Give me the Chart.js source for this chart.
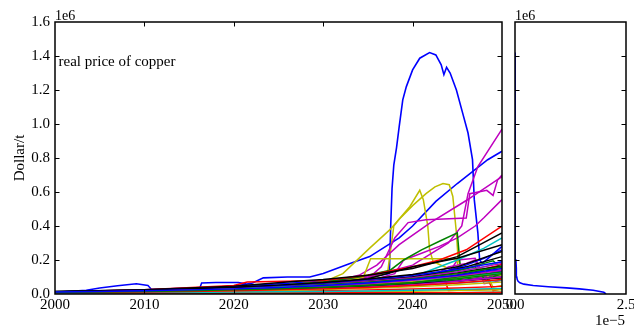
<!DOCTYPE html>
<html><head><meta charset="utf-8">
<script src="https://cdn.jsdelivr.net/npm/chart.js@4.4.1/dist/chart.umd.min.js"></script>
<style>
html,body{margin:0;padding:0;background:#fff;}
#wrap{position:relative;width:634px;height:330px;background:#fff;}
canvas{position:absolute;left:0;top:0;}
</style></head><body>
<div id="wrap"><canvas id="main" width="634" height="330"></canvas><canvas id="side" width="634" height="330"></canvas></div>
<script>
// ---------- DATA (values in 1e6 Dollar/t) ----------
const xTickYears = [2000, 2010, 2020, 2030, 2040, 2050];
const yTickValues = [0.0, 0.2, 0.4, 0.6, 0.8, 1.0, 1.2, 1.4, 1.6];
const sideXTicks = [0.0, 2.5];

// background ensemble on a coarse year grid
const gridYears = [2000, 2005, 2010, 2015, 2020, 2025, 2030, 2035, 2040, 2045, 2050];
const bg01 = [0.012,0.015,0.019,0.024,0.030,0.038,0.050,0.065,0.085,0.110,0.150];
const bg02 = [0.010,0.012,0.015,0.019,0.024,0.031,0.040,0.052,0.068,0.090,0.120];
const bg03 = [0.008,0.010,0.012,0.015,0.019,0.024,0.030,0.038,0.050,0.065,0.085];
const bg04 = [0.006,0.007,0.008,0.009,0.011,0.013,0.015,0.018,0.022,0.027,0.033];
const bg05 = [0.010,0.013,0.017,0.022,0.028,0.036,0.046,0.060,0.080,0.105,0.140];
const bg06 = [0.007,0.009,0.011,0.014,0.017,0.021,0.026,0.033,0.042,0.054,0.070];
const bg07 = [0.015,0.019,0.024,0.031,0.040,0.052,0.068,0.088,0.115,0.160,0.250];
const bg08 = [0.014,0.018,0.023,0.030,0.039,0.050,0.065,0.085,0.110,0.145,0.190];
const bg09 = [0.009,0.011,0.014,0.018,0.023,0.030,0.039,0.050,0.065,0.100,0.130];
const bg10 = [0.004,0.004,0.005,0.005,0.006,0.006,0.007,0.007,0.008,0.008,0.009];
const bg11 = [0.011,0.014,0.018,0.023,0.030,0.038,0.049,0.063,0.080,0.100,0.125];
const bg12 = [0.006,0.008,0.010,0.013,0.017,0.022,0.030,0.040,0.055,0.075,0.100];
const bg13 = [0.012,0.015,0.019,0.024,0.030,0.038,0.048,0.060,0.075,0.095,0.120];
const bg14 = [0.010,0.012,0.015,0.019,0.024,0.030,0.038,0.048,0.060,0.075,0.095];
const bg15 = [0.008,0.010,0.013,0.017,0.022,0.028,0.036,0.046,0.059,0.076,0.100];
const bg16 = [0.013,0.016,0.020,0.026,0.033,0.042,0.054,0.070,0.090,0.120,0.160];
const bg17 = [0.007,0.008,0.010,0.012,0.014,0.017,0.020,0.024,0.029,0.035,0.045];
const bg18 = [0.009,0.011,0.013,0.016,0.020,0.025,0.031,0.039,0.050,0.064,0.080];
const bg19 = [0.012,0.015,0.020,0.026,0.034,0.044,0.057,0.074,0.096,0.130,0.180];
const bg20 = [0.005,0.006,0.007,0.008,0.009,0.010,0.012,0.014,0.016,0.020,0.025];
const bg21 = [0.011,0.014,0.018,0.023,0.030,0.040,0.053,0.070,0.093,0.124,0.165];
const bg22 = [0.003,0.003,0.004,0.004,0.005,0.005,0.006,0.006,0.007,0.008,0.010];
const bg23 = [0.002,0.002,0.003,0.003,0.003,0.004,0.004,0.004,0.005,0.005,0.006];
const bgSeries = [bg01,bg02,bg03,bg04,bg05,bg06,bg07,bg08,bg09,bg10,bg11,bg12,bg13,bg14,bg15,bg16,bg17,bg18,bg19,bg20,bg21,bg22,bg23];
const bgColors = ['b','g','r','c','m','y','k','b','g','r','c','m','y','k','b','g','r','c','m','y','k','g','c'];

// jagged late trajectories on a finer late grid
const lateYears = [2000, 2010, 2020, 2030, 2035, 2040, 2042, 2044, 2046, 2047, 2048, 2049, 2050];
const jag01 = [0.010,0.018,0.030,0.050,0.070,0.095,0.110,0.130,0.150,0.160,0.090,0.100,0.120];
const jag02 = [0.012,0.020,0.033,0.055,0.075,0.100,0.115,0.135,0.160,0.175,0.190,0.205,0.220];
const jag03 = [0.011,0.019,0.032,0.052,0.072,0.100,0.120,0.140,0.170,0.190,0.210,0.235,0.260];
const jag04 = [0.009,0.015,0.025,0.045,0.060,0.080,0.095,0.110,0.130,0.140,0.150,0.040,0.050];
const jag05 = [0.010,0.016,0.027,0.045,0.062,0.085,0.100,0.120,0.080,0.090,0.100,0.110,0.120];
const jag06 = [0.009,0.015,0.024,0.040,0.055,0.075,0.085,0.100,0.115,0.125,0.135,0.020,0.030];
const jag07 = [0.010,0.017,0.028,0.048,0.066,0.090,0.105,0.120,0.140,0.150,0.160,0.175,0.190];
const jag08 = [0.011,0.018,0.030,0.050,0.068,0.092,0.108,0.128,0.150,0.165,0.180,0.195,0.150];
const jag09 = [0.010,0.016,0.026,0.043,0.058,0.078,0.090,0.105,0.120,0.130,0.140,0.150,0.160];
const jag10 = [0.008,0.013,0.022,0.036,0.048,0.064,0.074,0.086,0.100,0.108,0.116,0.125,0.135];
const jag11 = [0.009,0.015,0.025,0.042,0.058,0.080,0.095,0.160,0.180,0.200,0.060,0.070,0.080];
const jag12 = [0.010,0.017,0.028,0.047,0.064,0.088,0.100,0.115,0.130,0.135,0.140,0.145,0.150];
const jag13 = [0.009,0.014,0.022,0.036,0.048,0.062,0.070,0.078,0.088,0.094,0.100,0.108,0.116];
const jag14 = [0.011,0.018,0.029,0.048,0.064,0.086,0.098,0.112,0.128,0.138,0.148,0.160,0.175];
const jagSeries = [jag01,jag02,jag03,jag04,jag05,jag06,jag07,jag08,jag09,jag10,jag11,jag12,jag13,jag14];
const jagColors = ['g','k','b','y','m','r','c','g','k','b','m','y','g','r'];

// individual trajectories
const blackAYears = [2000, 2010, 2020, 2027, 2030, 2035, 2040, 2045, 2050];
const blackAVals  = [0.015, 0.025, 0.045, 0.075, 0.085, 0.110, 0.150, 0.220, 0.360];
const blackBYears = [2000, 2010, 2020, 2027, 2030, 2035, 2040, 2045, 2050];
const blackBVals  = [0.012, 0.020, 0.035, 0.050, 0.060, 0.090, 0.160, 0.210, 0.290];
const redAYears = [2000, 2010, 2020, 2021.5, 2030, 2035, 2040, 2043, 2046, 2050];
const redAVals  = [0.012, 0.025, 0.050, 0.070, 0.080, 0.110, 0.160, 0.200, 0.260, 0.400];
const redBYears = [2000, 2020, 2030, 2040, 2042, 2043.5, 2044, 2050];
const redBVals  = [0.008, 0.020, 0.035, 0.060, 0.100, 0.100, 0.020, 0.030];
const cyanAYears = [2000, 2020, 2030, 2040, 2045, 2048, 2050];
const cyanAVals  = [0.010, 0.025, 0.050, 0.100, 0.200, 0.270, 0.330];
const greenAYears = [2000, 2010, 2020, 2030, 2034, 2037.5, 2039, 2041, 2043, 2045, 2045.4, 2046, 2050];
const greenAVals  = [0.010, 0.018, 0.030, 0.070, 0.100, 0.140, 0.200, 0.260, 0.310, 0.360, 0.120, 0.100, 0.130];
const magAYears = [2000, 2010, 2020, 2030, 2035, 2040, 2044, 2045.5, 2046.2, 2047.3, 2050];
const magAVals  = [0.010, 0.018, 0.030, 0.060, 0.100, 0.170, 0.300, 0.400, 0.590, 0.750, 0.970];
const magBYears = [2000, 2010, 2020, 2030, 2034, 2036, 2038.5, 2042, 2046, 2050];
const magBVals  = [0.010, 0.017, 0.028, 0.060, 0.110, 0.170, 0.290, 0.420, 0.550, 0.690];
const magCYears = [2000, 2010, 2020, 2030, 2035.2, 2036.5, 2038, 2039.5, 2041.5, 2046, 2046.4, 2048.3, 2049, 2049.5, 2050];
const magCVals  = [0.010, 0.018, 0.030, 0.060, 0.100, 0.160, 0.330, 0.420, 0.437, 0.447, 0.590, 0.610, 0.580, 0.670, 0.700];
const magDYears = [2000, 2020, 2030, 2036, 2038, 2039, 2041, 2043, 2045, 2047, 2048, 2050];
const magDVals  = [0.010, 0.025, 0.050, 0.090, 0.120, 0.200, 0.240, 0.280, 0.330, 0.400, 0.450, 0.555];
const magEYears = [2000, 2020, 2030, 2035, 2040, 2044, 2045, 2047, 2048, 2050];
const magEVals  = [0.008, 0.020, 0.040, 0.060, 0.090, 0.120, 0.200, 0.210, 0.100, 0.120];
const yelAYears = [2000, 2010, 2020, 2030, 2032.2, 2035.2, 2037.5, 2039.7, 2040.8, 2041.2, 2041.7, 2041.9, 2042.3, 2044, 2046, 2050];
const yelAVals  = [0.010, 0.018, 0.030, 0.070, 0.120, 0.270, 0.380, 0.515, 0.610, 0.555, 0.400, 0.260, 0.190, 0.150, 0.120, 0.100];
const yelBYears = [2000, 2010, 2020, 2030, 2035, 2037.2, 2037.9, 2038.5, 2040, 2041.5, 2042.5, 2043.4, 2044.1, 2044.5, 2044.9, 2045.1, 2045.5, 2047, 2050];
const yelBVals  = [0.010, 0.017, 0.028, 0.055, 0.090, 0.124, 0.400, 0.440, 0.520, 0.590, 0.630, 0.650, 0.643, 0.574, 0.360, 0.200, 0.150, 0.120, 0.110];
const yelCYears = [2000, 2010, 2020, 2030, 2034.5, 2035.3, 2044.9, 2045.3, 2050];
const yelCVals  = [0.010, 0.016, 0.025, 0.050, 0.100, 0.207, 0.207, 0.120, 0.090];
const blueEarlyYears = [2000, 2003.5, 2005, 2007, 2009.1, 2010.4, 2010.8, 2015, 2020, 2030, 2040, 2050];
const blueEarlyVals  = [0.010, 0.022, 0.035, 0.048, 0.060, 0.050, 0.027, 0.033, 0.040, 0.060, 0.090, 0.120];
const blueMidYears = [2000, 2010, 2016.2, 2016.4, 2018, 2020.5, 2021.3, 2021.6, 2025, 2030, 2040, 2050];
const blueMidVals  = [0.008, 0.020, 0.035, 0.065, 0.068, 0.068, 0.060, 0.040, 0.050, 0.070, 0.100, 0.140];
const blueDiagYears = [2000, 2010, 2016, 2020, 2022.1, 2023.3, 2026, 2028.5, 2030, 2033, 2035.2, 2038.5, 2040, 2042.6, 2045, 2048.4, 2050];
const blueDiagVals  = [0.012, 0.020, 0.030, 0.045, 0.065, 0.095, 0.100, 0.100, 0.120, 0.180, 0.220, 0.330, 0.400, 0.545, 0.650, 0.790, 0.840];
const blueSpikeYears = [2000, 2010, 2020, 2030, 2035, 2037.4, 2037.55, 2037.7, 2037.9, 2038.2, 2038.5, 2038.9, 2039.3, 2040.0, 2040.8, 2041.9, 2042.6, 2043.2, 2043.5, 2043.8, 2044.2, 2044.9, 2045.6, 2046.2, 2046.7, 2046.9, 2047.3, 2047.5, 2047.8, 2050];
const blueSpikeVals  = [0.012, 0.025, 0.045, 0.075, 0.100, 0.120, 0.400, 0.620, 0.760, 0.860, 0.985, 1.142, 1.220, 1.318, 1.387, 1.420, 1.406, 1.348, 1.290, 1.334, 1.300, 1.200, 1.064, 0.947, 0.790, 0.555, 0.360, 0.200, 0.180, 0.280];

// right panel: density (x in 1e-5) against price level (y in 1e6)
const densityLevels = [0.000, 0.010, 0.022, 0.030, 0.036, 0.043, 0.050, 0.058, 0.066, 0.075, 0.085, 0.100, 0.150, 0.200, 0.250, 0.300, 0.400, 0.600, 1.000, 1.420];
const densityValues = [2.05, 2.00, 1.76, 1.45, 1.16, 0.75, 0.41, 0.20, 0.11, 0.07, 0.05, 0.04, 0.03, 0.02, 0.01, 0.005, 0.002, 0.001, 0.0, 0.0];

// ---------- STYLE ----------
const COLORS = {b:'#0000ff', g:'#008000', r:'#ff0000', c:'#00bfbf', m:'#bf00bf', y:'#bfbf00', k:'#000000'};
const FONT = 'Liberation Serif, Times New Roman, serif';

function line(xs, ys, c, w) {
  return {
    data: xs.map((x, i) => ({x: x, y: ys[i]})),
    showLine: true, borderColor: COLORS[c], backgroundColor: COLORS[c],
    borderWidth: w || 1.5, pointRadius: 0, pointHoverRadius: 0, fill: false, tension: 0
  };
}

const datasets = [];
bgSeries.forEach((s, i) => datasets.push(line(gridYears, s, bgColors[i], 1.4)));
jagSeries.forEach((s, i) => datasets.push(line(lateYears, s, jagColors[i], 1.4)));
datasets.push(line(blackAYears, blackAVals, 'k'));
datasets.push(line(blackBYears, blackBVals, 'k'));
datasets.push(line(redAYears, redAVals, 'r'));
datasets.push(line(redBYears, redBVals, 'r'));
datasets.push(line(cyanAYears, cyanAVals, 'c'));
datasets.push(line(greenAYears, greenAVals, 'g'));
datasets.push(line(yelCYears, yelCVals, 'y'));
datasets.push(line(magEYears, magEVals, 'm'));
datasets.push(line(magDYears, magDVals, 'm'));
datasets.push(line(magCYears, magCVals, 'm'));
datasets.push(line(magBYears, magBVals, 'm'));
datasets.push(line(magAYears, magAVals, 'm'));
datasets.push(line(yelAYears, yelAVals, 'y'));
datasets.push(line(yelBYears, yelBVals, 'y'));
datasets.push(line(blueEarlyYears, blueEarlyVals, 'b'));
datasets.push(line(blueMidYears, blueMidVals, 'b'));
datasets.push(line(blueDiagYears, blueDiagVals, 'b', 1.6));
datasets.push(line(blueSpikeYears, blueSpikeVals, 'b', 1.6));

const TICKLEN = 4.5;

function frameAndTicks(chart, xTicks, yTicks) {
  const ctx = chart.ctx, a = chart.chartArea;
  const xs = chart.scales.x, ys = chart.scales.y;
  ctx.save();
  ctx.strokeStyle = '#000';
  ctx.lineWidth = 1;
  ctx.beginPath();
  xTicks.forEach(v => {
    const px = Math.round(xs.getPixelForValue(v)) + 0.5;
    if (px <= a.left + 1 || px >= a.right - 1) return;
    ctx.moveTo(px, a.bottom); ctx.lineTo(px, a.bottom - TICKLEN);
    ctx.moveTo(px, a.top); ctx.lineTo(px, a.top + TICKLEN);
  });
  yTicks.forEach(v => {
    const py = Math.round(ys.getPixelForValue(v)) + 0.5;
    if (py <= a.top + 1 || py >= a.bottom - 1) return;
    ctx.moveTo(a.left, py); ctx.lineTo(a.left + TICKLEN, py);
    ctx.moveTo(a.right, py); ctx.lineTo(a.right - TICKLEN, py);
  });
  ctx.stroke();
  ctx.lineWidth = 1.5;
  ctx.strokeRect(a.left, a.top, a.right - a.left, a.bottom - a.top);
  ctx.restore();
}

const mainPlugin = {
  id: 'mainDeco',
  afterDraw(chart) {
    frameAndTicks(chart, xTickYears, yTickValues);
    const ctx = chart.ctx, a = chart.chartArea;
    ctx.save();
    ctx.fillStyle = '#000';
    ctx.font = '14px ' + FONT;
    ctx.textBaseline = 'alphabetic';
    ctx.textAlign = 'left';
    ctx.fillText('1e6', a.left, 19.5);
    ctx.font = '15px ' + FONT;
    ctx.fillText('real price of copper', a.left + 3.5, 65.5);
    ctx.translate(23.5, (a.top + a.bottom) / 2);
    ctx.rotate(-Math.PI / 2);
    ctx.textAlign = 'center';
    ctx.fillText('Dollar/t', 0, 0);
    ctx.restore();
  }
};

const sidePlugin = {
  id: 'sideDeco',
  afterDraw(chart) {
    frameAndTicks(chart, sideXTicks, yTickValues);
    const ctx = chart.ctx, a = chart.chartArea;
    ctx.save();
    ctx.fillStyle = '#000';
    ctx.font = '14px ' + FONT;
    ctx.textAlign = 'left';
    ctx.fillText('1e6', a.left, 19.5);
    ctx.font = '15px ' + FONT;
    ctx.textAlign = 'right';
    ctx.fillText('1e\u22125', a.right - 1, 324.5);
    ctx.restore();
  }
};

new Chart(document.getElementById('main'), {
  type: 'scatter',
  data: { datasets: datasets },
  options: {
    responsive: false, animation: false, devicePixelRatio: 1,
    layout: { padding: { top: 22, right: 132, left: 0, bottom: 0 } },
    plugins: { legend: { display: false }, tooltip: { enabled: false } },
    scales: {
      x: {
        type: 'linear', min: 2000, max: 2050,
        afterBuildTicks: s => { s.ticks = xTickYears.map(v => ({value: v})); },
        afterFit: s => { s.height = 36; s.paddingLeft = 0; s.paddingRight = 0; },
        grid: { display: false, drawTicks: false },
        border: { display: false },
        ticks: { autoSkip: false, maxRotation: 0, padding: 2, color: '#000',
                 font: { family: FONT, size: 15 }, callback: v => String(v) }
      },
      y: {
        type: 'linear', min: 0, max: 1.6,
        afterBuildTicks: s => { s.ticks = yTickValues.map(v => ({value: v})); },
        afterFit: s => { s.width = 55; s.paddingTop = 0; s.paddingBottom = 0; },
        grid: { display: false, drawTicks: false },
        border: { display: false },
        ticks: { padding: 5, color: '#000', font: { family: FONT, size: 15 },
                 callback: v => Number(v).toFixed(1) }
      }
    }
  },
  plugins: [mainPlugin]
});

new Chart(document.getElementById('side'), {
  type: 'scatter',
  data: { datasets: [ line(densityValues, densityLevels, 'b', 1.6) ] },
  options: {
    responsive: false, animation: false, devicePixelRatio: 1,
    layout: { padding: { top: 22, right: 8, left: 515, bottom: 0 } },
    plugins: { legend: { display: false }, tooltip: { enabled: false } },
    scales: {
      x: {
        type: 'linear', min: 0, max: 2.5,
        afterBuildTicks: s => { s.ticks = sideXTicks.map(v => ({value: v})); },
        afterFit: s => { s.height = 36; s.paddingLeft = 0; s.paddingRight = 0; },
        grid: { display: false, drawTicks: false },
        border: { display: false },
        ticks: { autoSkip: false, maxRotation: 0, padding: 2, color: '#000',
                 font: { family: FONT, size: 15 }, callback: v => Number(v).toFixed(1) }
      },
      y: { type: 'linear', min: 0, max: 1.6, display: false }
    }
  },
  plugins: [sidePlugin]
});
</script>
</body></html>
